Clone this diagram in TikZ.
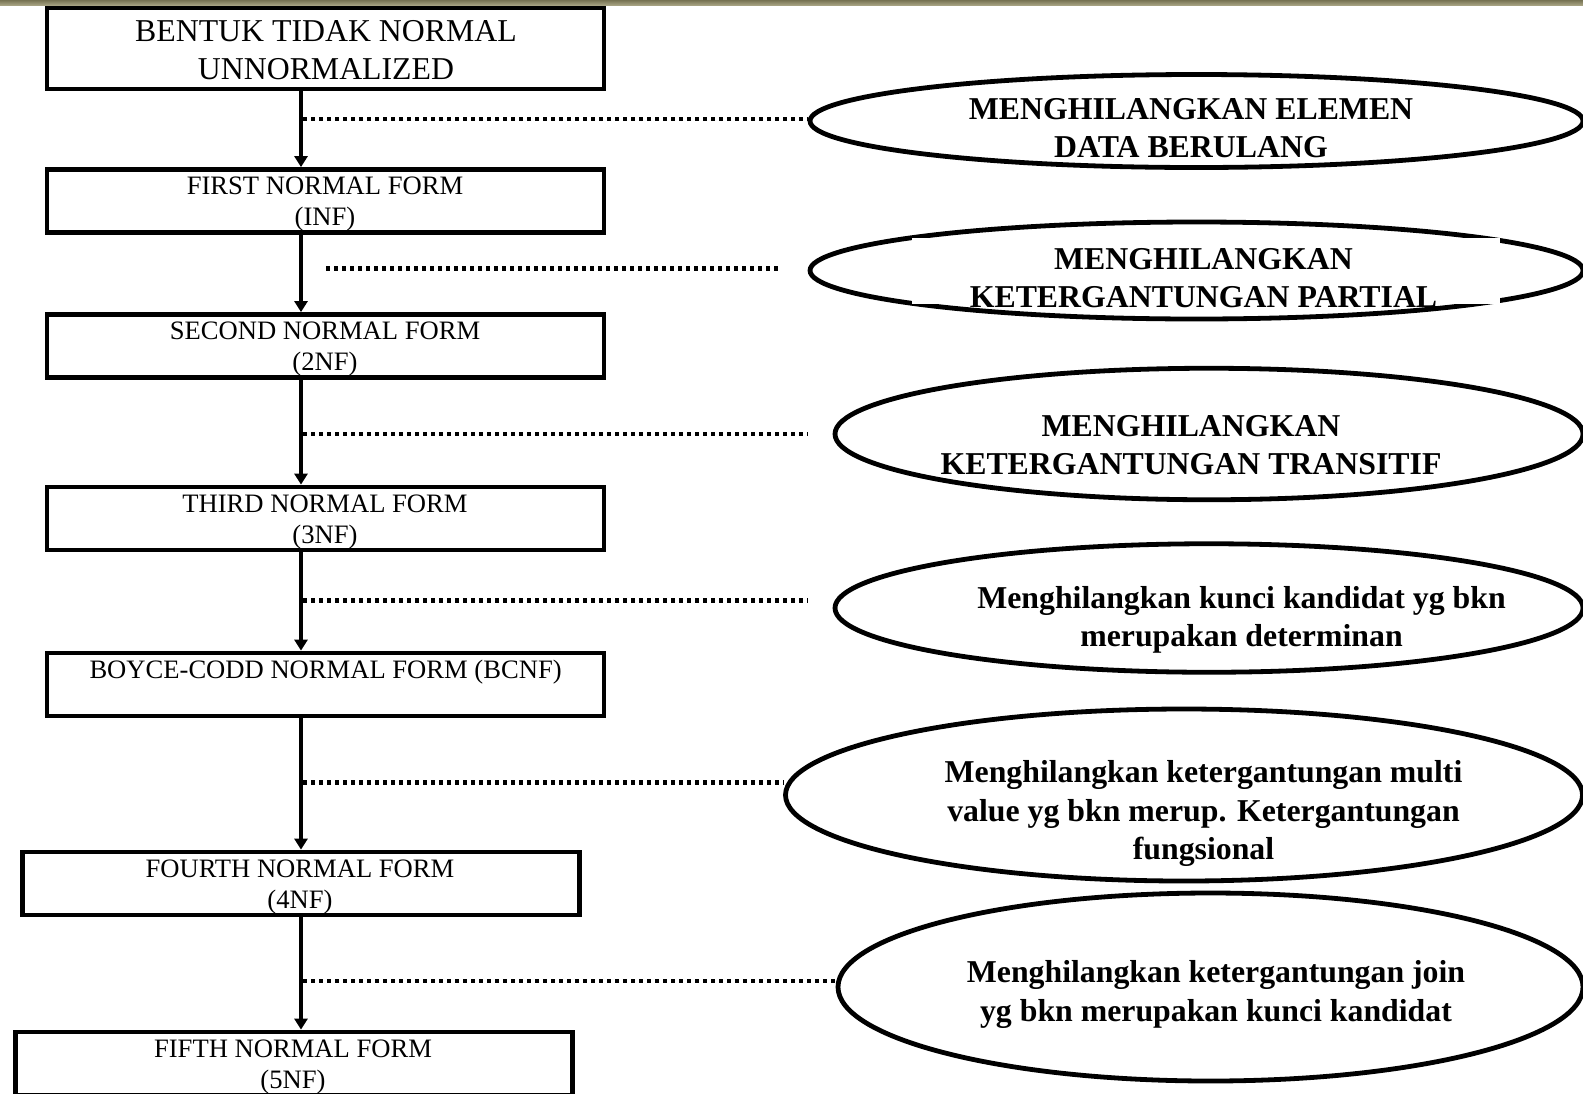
\documentclass[tikz,border=0pt]{standalone}
\usepackage{fontspec}
\setmainfont{Liberation Serif}
\usetikzlibrary{shapes.geometric,arrows.meta}
\definecolor{barolive}{RGB}{118,114,82}
\definecolor{barlight}{RGB}{170,166,134}

\begin{document}
\begin{tikzpicture}[
    x=0.5pt, y=-0.5pt,
    form/.style={draw, rectangle, line width=2.4pt, minimum width=278.5pt, minimum height=31.5pt, inner sep=0pt},
    formtxt/.style={align=center, inner sep=0pt, font=\fontsize{13.3}{15.5}\selectfont},
    goal/.style={draw, ellipse, line width=2.4pt, inner sep=0pt},
    goaltxt/.style={align=center, inner sep=0pt, font=\fontsize{15.9}{19.3}\selectfont\bfseries},
    flow/.style={line width=2.3pt, -{Triangle[width=6.5pt,length=5.5pt]}},
    dotline/.style={line width=2.4pt, dash pattern=on 2.2pt off 1.8pt}
]
\useasboundingbox (0,0) rectangle (1583,1093);
\clip (0,0) rectangle (1583,1093);
\fill[white] (0,0) rectangle (1583,1093);
\shade[top color=barolive, bottom color=barlight] (0,0) rectangle (1583,5.5);

% Bentuk normal
\node[form, minimum height=40.5pt] (b1) at (325.5,48.5) {};
\node[form] (b2) at (325.5,201) {};
\node[form] (b3) at (325.5,346) {};
\node[form] (b4) at (325.5,518.5) {};
\node[form] (b5) at (325.5,684.5) {};
\node[form] (b6) at (300.75,883.5) {};
\node[form] (b7) at (293.75,1063.5) {};

\node[formtxt, font=\fontsize{15.9}{18.7}\selectfont] (t1) at (326,50) {BENTUK TIDAK NORMAL\\UNNORMALIZED};
\node[formtxt] (t2) at (325,204) {FIRST NORMAL FORM\\(INF)};
\node[formtxt] (t3) at (325,349) {SECOND NORMAL FORM\\(2NF)};
\node[formtxt] (t4) at (325,522) {THIRD NORMAL FORM\\(3NF)};
\node[formtxt] (t5) at (325.6,672) {BOYCE-CODD NORMAL FORM (BCNF)};
\node[formtxt] (t6) at (300,887) {FOURTH NORMAL FORM\\(4NF)};
\node[formtxt] (t7) at (293,1067) {FIFTH NORMAL FORM\\(5NF)};

% Alur
\coordinate (axis) at (301,0);
\draw[flow] (b1.south -| axis) -- (b2.north -| axis);
\draw[flow] (b2.south -| axis) -- (b3.north -| axis);
\draw[flow] (b3.south -| axis) -- (b4.north -| axis);
\draw[flow] (b4.south -| axis) -- (b5.north -| axis);
\draw[flow] (b5.south -| axis) -- (b6.north -| axis);
\draw[flow] (b6.south -| axis) -- (b7.north -| axis);

% Tujuan
\node[goal, minimum width=386.5pt, minimum height=46.5pt] (e1) at (1196.5,121) {};
\node[goal, minimum width=386.5pt, minimum height=48.5pt] (e2) at (1196.5,270.5) {};
\fill[white] (912,237.5) rectangle (1500,303.5);
\node[goal, minimum width=374pt, minimum height=65.75pt] (e3) at (1209,434) {};
\node[goal, minimum width=374pt, minimum height=64.25pt] (e4) at (1209,608) {};
\node[goal, minimum width=398.5pt, minimum height=86pt] (e5) at (1184,795) {};
\node[goal, minimum width=372.5pt, minimum height=94pt] (e6) at (1210.5,987) {};

\node[goaltxt] (g1) at (1191,128) {MENGHILANGKAN ELEMEN\\DATA BERULANG};
\node[goaltxt] (g2) at (1203.5,278) {MENGHILANGKAN\\KETERGANTUNGAN PARTIAL};
\node[goaltxt] (g3) at (1191,445) {MENGHILANGKAN\\KETERGANTUNGAN TRANSITIF};
\node[goaltxt] (g4) at (1241.5,620) {Menghilangkan kunci kandidat yg bkn\\merupakan determinan};
\node[goaltxt] (g5) at (1203.5,813.5) {Menghilangkan ketergantungan multi\\value yg bkn merup. Ketergantungan\\fungsional};
\node[goaltxt] (g6) at (1216,994.5) {Menghilangkan ketergantungan join\\yg bkn merupakan kunci kandidat};

% Garis titik
\coordinate (s1) at (303,119);
\coordinate (s2) at (326,268.5);
\coordinate (f2) at (780,268.5);
\coordinate (s3) at (303,434);
\coordinate (f3) at (808,434);
\coordinate (s4) at (303,600.7);
\coordinate (f4) at (808,600.7);
\coordinate (s5) at (303,782.5);
\coordinate (s6) at (303,981);
\draw[dotline] (s1) -- (s1 -| e1.west);
\draw[dotline] (s2) -- (f2);
\draw[dotline] (s3) -- (f3);
\draw[dotline] (s4) -- (f4);
\draw[dotline] (s5) -- (s5 -| e5.west);
\draw[dotline] (s6) -- (s6 -| e6.west);
\end{tikzpicture}
\end{document}
